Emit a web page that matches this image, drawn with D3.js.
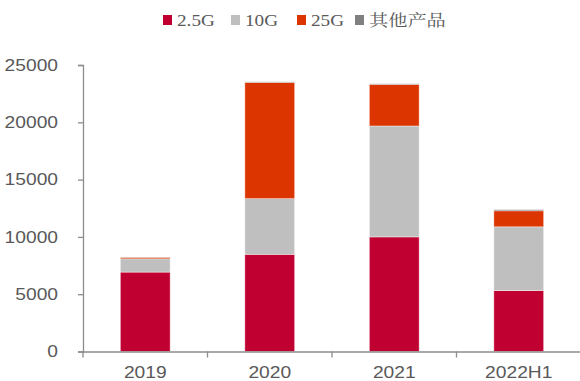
<!DOCTYPE html>
<html>
<head>
<meta charset="utf-8">
<script src="https://cdn.jsdelivr.net/npm/d3@7"></script>
<style>
  body { margin: 0; background: #fff; }
</style>
</head>
<body>
<svg id="chart" width="580" height="381"></svg>
<script>
// categories and values
var years = ["2019", "2020", "2021", "2022H1"];
var seriesNames = ["2.5G", "10G", "25G", "其他产品"];
var v2_5G = [6930, 8480, 10000, 5320];
var v10G = [1160, 4860, 9680, 5560];
var v25G = [130, 10140, 3630, 1400];
var vOther = [10, 50, 50, 100];
var yTicks = [0, 5000, 10000, 15000, 20000, 25000];

var colors = ["#C00030", "#BFBFBF", "#DC3500", "#808080"];

var svg = d3.select("#chart");
var plotLeft = 83, plotRight = 581, plotTop = 65, plotBottom = 351.5;

// the original picture is a little stretched sideways, so widen text
function widen(sel) {
  sel.each(function() {
    var w = this.getComputedTextLength();
    d3.select(this).attr("textLength", w * 1.2).attr("lengthAdjust", "spacingAndGlyphs");
  });
}

var x = d3.scaleBand().domain(years).range([plotLeft, plotRight]).paddingInner(0.6).paddingOuter(0.3);
var y = d3.scaleLinear().domain([0, 25000]).range([plotBottom, plotTop]);

// build rows for the stack
var rows = years.map(function(yr, i) {
  return {year: yr, "2.5G": v2_5G[i], "10G": v10G[i], "25G": v25G[i], "其他产品": vOther[i]};
});
var stacked = d3.stack().keys(seriesNames)(rows);

svg.append("g").selectAll("g")
  .data(stacked)
  .enter().append("g")
  .attr("fill", function(d, i) { return colors[i]; })
  .selectAll("rect")
  .data(function(d) { return d; })
  .enter().append("rect")
  .attr("x", function(d) { return x(d.data.year); })
  .attr("width", x.bandwidth())
  .attr("y", function(d) { return y(d[1]); })
  .attr("height", function(d) { return y(d[0]) - y(d[1]); })
  .attr("stroke", "rgba(255,255,255,0.5)")
  .attr("stroke-width", 0.8);

// y axis
var yAxis = svg.append("g")
  .attr("transform", "translate(" + plotLeft + ",0)")
  .call(d3.axisLeft(y).tickValues(yTicks).tickSize(5).tickPadding(20).tickFormat(d3.format("d")));
yAxis.select(".domain").attr("stroke", "#8C8C8C").attr("stroke-width", 1.3);
yAxis.selectAll(".tick line").attr("stroke", "#8C8C8C").attr("stroke-width", 1.3);
yAxis.selectAll("text")
  .attr("font-family", "'Liberation Sans', Arial, sans-serif")
  .attr("font-size", "16px")
  .attr("fill", "#595959")
  .call(widen);

// x axis: ticks sit between categories
var bounds = d3.range(0, years.length + 1).map(function(i) { return plotLeft + i * (plotRight - plotLeft) / years.length; });
var xg = svg.append("g");
xg.append("line")
  .attr("x1", plotLeft).attr("x2", 580)
  .attr("y1", plotBottom + 0.5).attr("y2", plotBottom + 0.5)
  .attr("stroke", "#8C8C8C").attr("stroke-width", 1.3);
xg.selectAll(".xt")
  .data(bounds)
  .enter().append("line")
  .attr("x1", function(d) { return d; }).attr("x2", function(d) { return d; })
  .attr("y1", plotBottom).attr("y2", plotBottom + 6)
  .attr("stroke", "#8C8C8C").attr("stroke-width", 1.3);
xg.selectAll("text")
  .data(years)
  .enter().append("text")
  .attr("x", function(d) { return x(d) + x.bandwidth() / 2; })
  .attr("y", 378)
  .attr("text-anchor", "middle")
  .attr("font-family", "'Liberation Sans', Arial, sans-serif")
  .attr("font-size", "16px")
  .attr("fill", "#595959")
  .text(function(d) { return d; })
  .call(widen);

// legend
var legendX = [163, 231, 297, 355];
var lg = svg.append("g");
seriesNames.forEach(function(name, i) {
  lg.append("rect")
    .attr("x", legendX[i]).attr("y", 15)
    .attr("width", 9).attr("height", 10)
    .attr("fill", colors[i]);
  lg.append("text")
    .attr("x", legendX[i] + 14).attr("y", 26)
    .attr("font-family", i == 3 ? "'Noto Serif CJK SC', 'Noto Sans CJK SC', serif" : "'Liberation Serif', 'Times New Roman', serif")
    .attr("font-size", "16px")
    .attr("fill", "#595959")
    .text(name)
    .call(widen);
});
</script>
</body>
</html>
